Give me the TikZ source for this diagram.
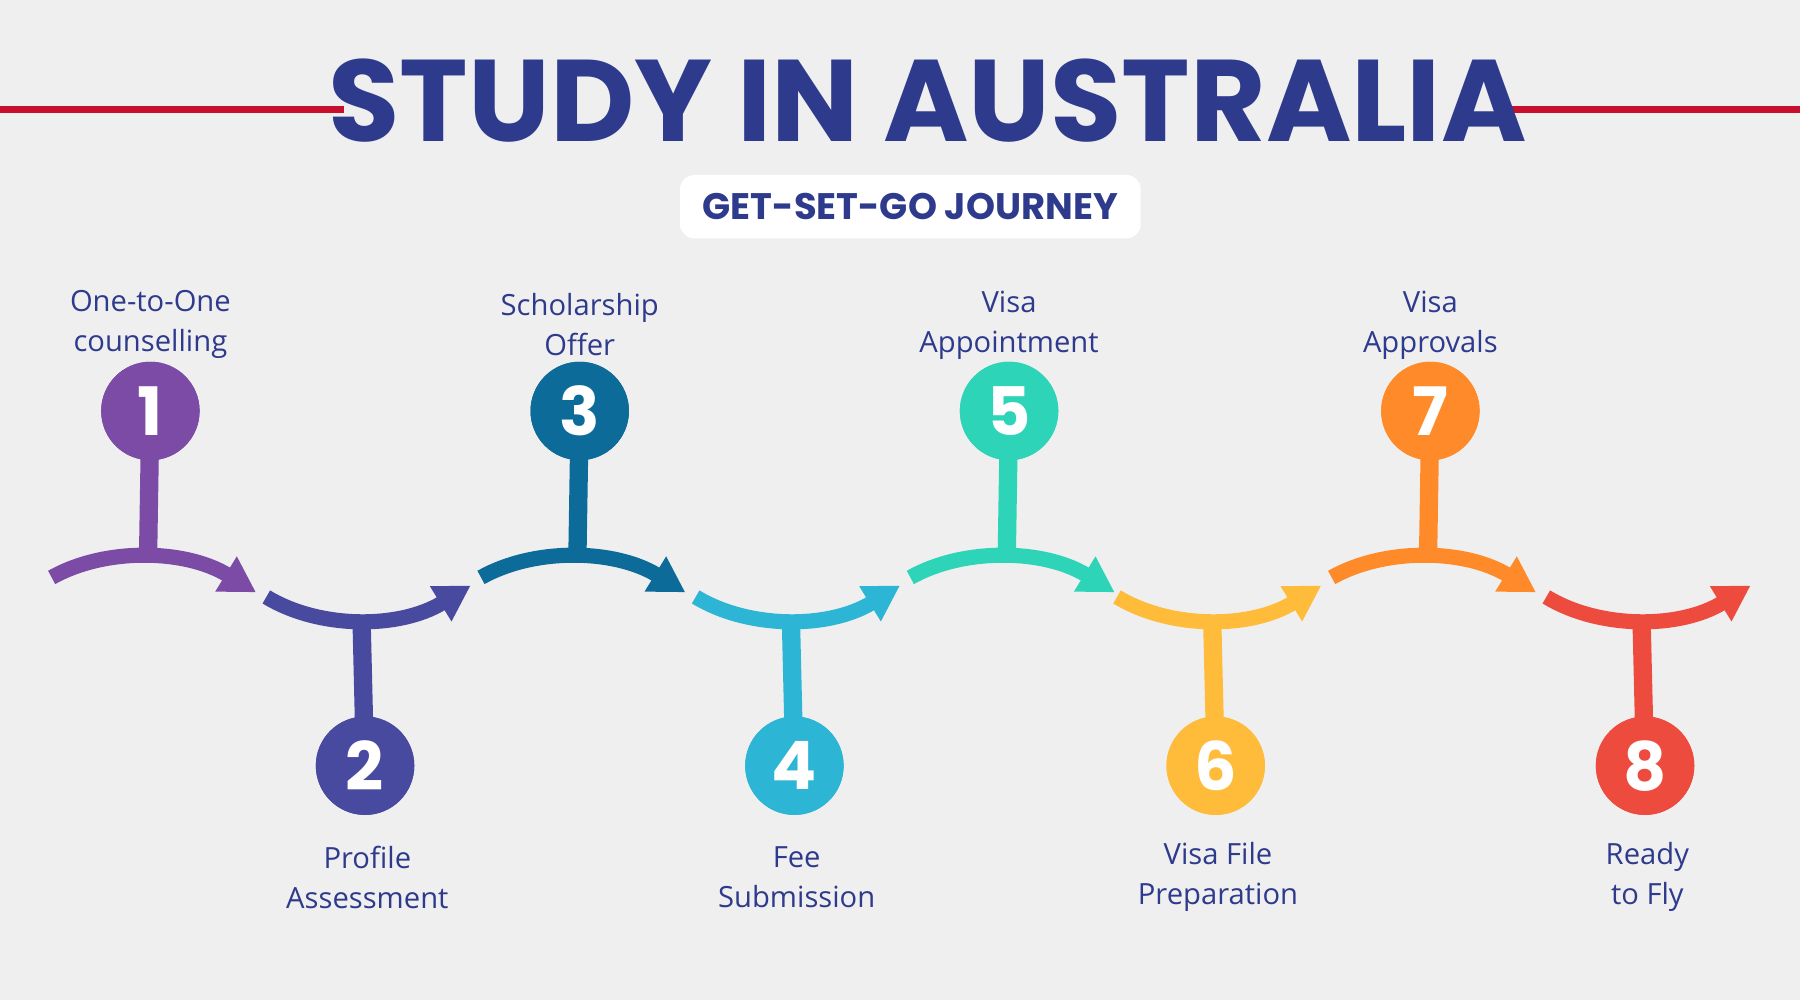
\documentclass[tikz,border=0pt]{standalone}
\usepackage{fontspec}
\setmainfont{Open Sans}
\newfontfamily\titlefont{Poppins}
\usetikzlibrary{arrows.meta}
\definecolor{bg}{HTML}{EFEFEF}
\definecolor{navy}{HTML}{2E3A8C}
\definecolor{redl}{HTML}{C8102E}
\definecolor{cA}{HTML}{7B4BA6}
\definecolor{cB}{HTML}{474A9E}
\definecolor{cC}{HTML}{0D6B9A}
\definecolor{cD}{HTML}{2CB5D4}
\definecolor{cE}{HTML}{2DD4B8}
\definecolor{cF}{HTML}{FFBC3A}
\definecolor{cG}{HTML}{FF8A2A}
\definecolor{cH}{HTML}{EE4B3F}
\tikzset{
 arcline/.style={line width=4.3pt,-{Triangle[length=10pt,width=11pt]}},
 stem/.style={line width=5.2pt},
 num/.style={circle,minimum size=28pt,inner sep=0pt,font=\titlefont\bfseries\fontsize{19pt}{19pt}\selectfont,text=white},
 lbl/.style={align=center,text=navy,font=\fontsize{8.3pt}{11.4pt}\selectfont}
}
\begin{document}
\begin{tikzpicture}[x=0.01148cm,y=-0.01148cm]
\fill[bg] (0,0) rectangle (1568,871);
\useasboundingbox (0,0) rectangle (1568,871);
\coordinate (l1) at (0,95); \coordinate (l2) at (300,95);
\coordinate (l3) at (1305,95); \coordinate (l4) at (1568,95);
\draw[redl,line width=2pt] (l1)--(l2); \draw[redl,line width=2pt] (l3)--(l4);
\node[text=navy,font=\titlefont\bfseries\fontsize{33pt}{33pt}\selectfont] (title) at (808,88) {STUDY IN AUSTRALIA};
\node[fill=white,rounded corners=4pt,minimum width=131pt,minimum height=18pt,text=navy,font=\titlefont\bfseries\fontsize{10.5pt}{10.5pt}\selectfont] (sub) at (793,180) {GET-SET-GO JOURNEY};
% odd steps
\foreach \cx/\c/\n/\t in {131/cA/1/{One-to-One\\counselling},505/cC/3/{Scholarship\\Offer},879/cE/5/{Visa\\Appointment},1246/cG/7/{Visa\\Approvals}}{
 \coordinate (s\n) at (\cx-86,503);
 \coordinate (e\n) at (\cx+92,516);
 \coordinate (j\n) at (\cx-2,484);
 \draw[arcline,\c] (s\n) .. controls (\cx-40,477) and (\cx+30,478) .. (e\n);
 \node[num,fill=\c] (n\n) at (\cx,358) {\n};
 \draw[stem,\c] (n\n.center) -- (j\n);
 \node[num,fill=\c] at (\cx,358) {\n};
 \node[lbl] (t\n) at (\cx,283) {\t};
}
\foreach \cx/\c/\n/\t in {318/cB/2/{Profile\\Assessment},692/cD/4/{Fee\\Submission},1059/cF/6/{Visa File\\Preparation},1433/cH/8/{Ready\\to Fly}}{
 \coordinate (s\n) at (\cx-86,520);
 \coordinate (e\n) at (\cx+92,510);
 \coordinate (j\n) at (\cx-3,542);
 \draw[arcline,\c] (s\n) .. controls (\cx-40,548) and (\cx+30,548) .. (e\n);
 \node[num,fill=\c] (n\n) at (\cx,667) {\n};
 \draw[stem,\c] (j\n) -- (n\n.center);
 \node[num,fill=\c] at (\cx,667) {\n};
 \node[lbl] (t\n) at (\cx+2,764) {\t};
}
\end{tikzpicture}
\end{document}
